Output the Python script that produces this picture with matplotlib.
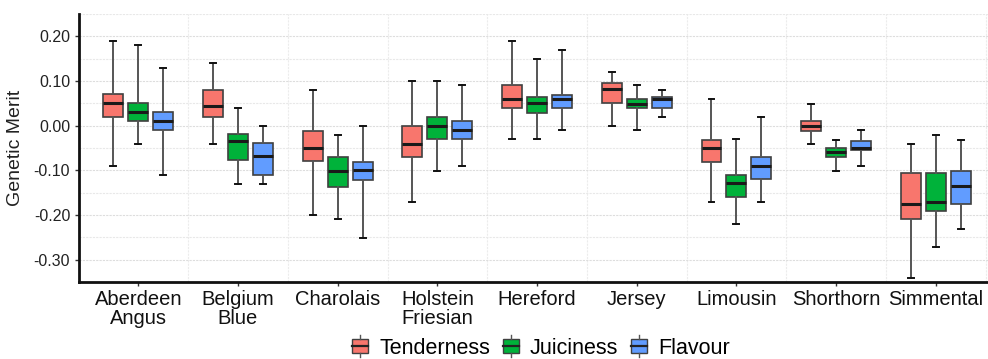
import numpy as np
import matplotlib
matplotlib.use("Agg")
import matplotlib.pyplot as plt
from matplotlib.legend_handler import HandlerBase
from matplotlib.patches import Rectangle, Patch
from matplotlib.lines import Line2D

plt.rcParams['font.family'] = ['Liberation Sans', 'DejaVu Sans']

breeds = ["Aberdeen\nAngus", "Belgium\nBlue", "Charolais", "Holstein\nFriesian",
          "Hereford", "Jersey", "Limousin", "Shorthorn", "Simmental"]
traits = ["Tenderness", "Juiciness", "Flavour"]
colors = ["#F8766D", "#00B23A", "#619CFF"]

# each row: whisker low, q1, median, q3, whisker high
tenderness = [
    [-0.090, 0.020, 0.050, 0.070, 0.190],
    [-0.040, 0.020, 0.045, 0.080, 0.140],
    [-0.200, -0.078, -0.049, -0.013, 0.080],
    [-0.170, -0.070, -0.041, 0.000, 0.100],
    [-0.030, 0.040, 0.060, 0.090, 0.190],
    [0.000, 0.050, 0.081, 0.095, 0.120],
    [-0.170, -0.081, -0.049, -0.031, 0.060],
    [-0.041, -0.011, 0.000, 0.010, 0.049],
    [-0.340, -0.209, -0.175, -0.105, -0.041],
]
juiciness = [
    [-0.041, 0.010, 0.031, 0.050, 0.180],
    [-0.130, -0.076, -0.034, -0.018, 0.039],
    [-0.210, -0.137, -0.101, -0.070, -0.021],
    [-0.101, -0.030, 0.000, 0.019, 0.100],
    [-0.030, 0.029, 0.050, 0.065, 0.150],
    [-0.010, 0.040, 0.049, 0.059, 0.090],
    [-0.220, -0.160, -0.129, -0.110, -0.030],
    [-0.101, -0.070, -0.060, -0.050, -0.031],
    [-0.271, -0.191, -0.170, -0.105, -0.021],
]
flavour = [
    [-0.110, -0.010, 0.010, 0.030, 0.130],
    [-0.130, -0.110, -0.069, -0.038, 0.000],
    [-0.251, -0.122, -0.100, -0.081, 0.000],
    [-0.090, -0.030, -0.010, 0.010, 0.090],
    [-0.010, 0.040, 0.060, 0.069, 0.170],
    [0.019, 0.040, 0.060, 0.064, 0.080],
    [-0.170, -0.120, -0.090, -0.070, 0.019],
    [-0.090, -0.055, -0.050, -0.035, -0.010],
    [-0.231, -0.175, -0.135, -0.101, -0.031],
]
series = [tenderness, juiciness, flavour]


class BoxHandler(HandlerBase):
    def create_artists(self, legend, orig_handle, xdescent, ydescent,
                       width, height, fontsize, trans):
        cx = width / 2 - xdescent
        bw = height * 1.0
        bh = height * 0.85
        y0 = (height - bh) / 2 - ydescent
        rect = Rectangle((cx - bw / 2, y0), bw, bh, facecolor=orig_handle.get_facecolor(),
                         edgecolor="#404040", lw=1.0, transform=trans)
        med = Line2D([cx - bw / 2, cx + bw / 2], [y0 + bh / 2] * 2, color="#222222", lw=1.6,
                     transform=trans)
        top = Line2D([cx, cx], [y0 + bh, y0 + bh + height * 0.25], color="#555555", lw=1.0,
                     transform=trans)
        bot = Line2D([cx, cx], [y0, y0 - height * 0.25], color="#555555", lw=1.0,
                     transform=trans)
        return [rect, med, top, bot]


fig = plt.figure(figsize=(9.88, 3.59), dpi=100)
ax = fig.add_axes([78.5 / 988, 77 / 359, (995.6 - 78.5) / 988, 268 / 359])

pos = np.arange(1, len(breeds) + 1)
offsets = [-0.25, 0.0, 0.25]
for data, off, col in zip(series, offsets, colors):
    stats = []
    for row in data:
        lo, q1, med, q3, hi = row
        stats.append(dict(whislo=lo, q1=q1, med=med, q3=q3, whishi=hi, fliers=[]))
    ax.bxp(stats, positions=pos + off, widths=0.2, showfliers=False, patch_artist=True,
           boxprops=dict(facecolor=col, edgecolor="#404040", lw=1.2),
           medianprops=dict(color="#1a1a1a", lw=2.2),
           whiskerprops=dict(color="#555555", lw=1.4),
           capprops=dict(color="#111111", lw=1.4), capwidths=0.06, zorder=3)

ax.set_xlim(0.4, 9.6)
ax.set_ylim(-0.35, 0.25)

yt = np.arange(-0.3, 0.21, 0.1)
ax.set_yticks(yt)
ax.set_yticklabels([f"{v:.2f}" for v in yt], fontsize=11.5, color="#222222")
ax.set_yticks(np.arange(-0.35, 0.26, 0.05), minor=True)
ax.set_xticks(pos)
ax.set_xticklabels(breeds, fontsize=14.5, color="#111111", linespacing=1.0)
ax.set_xticks(pos + 0.5, minor=True)

ax.grid(True, which="major", axis="y", color="#dddddd", lw=0.8, ls=(0, (2, 1)))
ax.grid(True, which="minor", axis="y", color="#e8e8e8", lw=0.8, ls=(0, (2, 1)))
ax.grid(True, which="minor", axis="x", color="#ececec", lw=0.8, ls=(0, (2, 1)))
ax.set_axisbelow(True)

ax.tick_params(axis="both", which="major", length=3, width=1, color="#333333", pad=3)
ax.tick_params(axis="both", which="minor", length=0)
for s in ["top", "right"]:
    ax.spines[s].set_visible(False)
for s in ["left", "bottom"]:
    ax.spines[s].set_linewidth(2)
    ax.spines[s].set_color("#111111")

ax.set_ylabel("Genetic Merit", fontsize=14, color="#222222", labelpad=7)

handles = [Patch(facecolor=c) for c in colors]
fig.legend(handles, traits, loc="center", bbox_to_anchor=(541 / 988, 1 - 348 / 359),
           ncol=3, frameon=False, fontsize=15.5, handler_map={Patch: BoxHandler()},
           handlelength=0.75, handleheight=0.75, handletextpad=0.5, columnspacing=0.6,
           borderpad=0.1)

fig.savefig("out.png", dpi=100)
